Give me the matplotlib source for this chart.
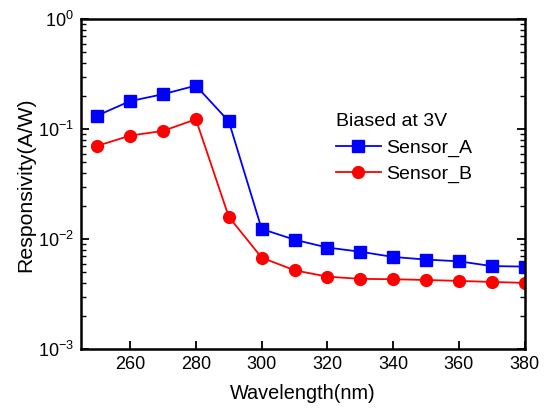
import math

import matplotlib
matplotlib.use('Agg')
import matplotlib.pyplot as plt
from matplotlib import ticker

plt.rcParams['font.family'] = ['Liberation Sans', 'DejaVu Sans']
plt.rcParams['mathtext.fontset'] = 'custom'
plt.rcParams['mathtext.rm'] = 'Liberation Sans'

# data
wavelength = [250, 260, 270, 280, 290, 300, 310, 320, 330, 340, 350, 360, 370, 380]
sensor_a = [0.133, 0.180, 0.208, 0.249, 0.118, 0.0124, 0.0099, 0.0084, 0.0077,
            0.0069, 0.00653, 0.0063, 0.0057, 0.00564]
sensor_b = [0.0705, 0.0875, 0.0965, 0.123, 0.0160, 0.0068, 0.00522, 0.00457,
            0.00436, 0.00433, 0.00426, 0.00418, 0.00409, 0.00401]
x_ticks = [260, 280, 300, 320, 340, 360, 380]

fig = plt.figure(figsize=(5.46, 4.08), dpi=100)
ax = fig.add_axes([0.148, 0.144, 0.813, 0.809])

ax.plot(wavelength, sensor_a, '-s', color='#0000ff', lw=1.3, ms=8, label='Sensor_A')
ax.plot(wavelength, sensor_b, '-o', color='#ff0000', lw=1.3, ms=8.5, label='Sensor_B')

ax.set_yscale('log')
ax.set_xlim(245, 380)
ax.set_ylim(1e-3, 1)
ax.set_xticks(x_ticks)
ax.yaxis.set_major_locator(ticker.LogLocator(base=10, numticks=10))
ax.yaxis.set_minor_locator(ticker.LogLocator(base=10, subs=range(2, 10), numticks=10))
ax.yaxis.set_major_formatter(ticker.FuncFormatter(
    lambda v, p: r'$\mathregular{10^{%d}}$' % round(math.log10(v))))

for s in ax.spines.values():
    s.set_linewidth(1.8)
ax.tick_params(which='major', direction='in', length=6, width=1.3, labelsize=13)
ax.tick_params(which='minor', direction='in', length=3.5, width=1.0)
ax.tick_params(axis='y', which='both', right=True, labelright=False)
ax.tick_params(axis='x', which='major', pad=5)
ax.tick_params(axis='y', which='major', pad=5)

ax.set_xlabel('Wavelength(nm)', fontsize=14.3, labelpad=8)
ax.set_ylabel('Responsivity(A/W)', fontsize=15.3, labelpad=2)

leg = ax.legend(loc='upper left', bbox_to_anchor=(0.615, 0.722),
                bbox_transform=fig.transFigure, frameon=False,
                title='Biased at 3V', fontsize=14, title_fontsize=14,
                handlelength=2.3, handletextpad=0.3, labelspacing=0.42,
                borderpad=0, borderaxespad=0)
leg._legend_box.align = 'left'
leg._legend_box.sep = 6

fig.savefig('out.png', dpi=100)
